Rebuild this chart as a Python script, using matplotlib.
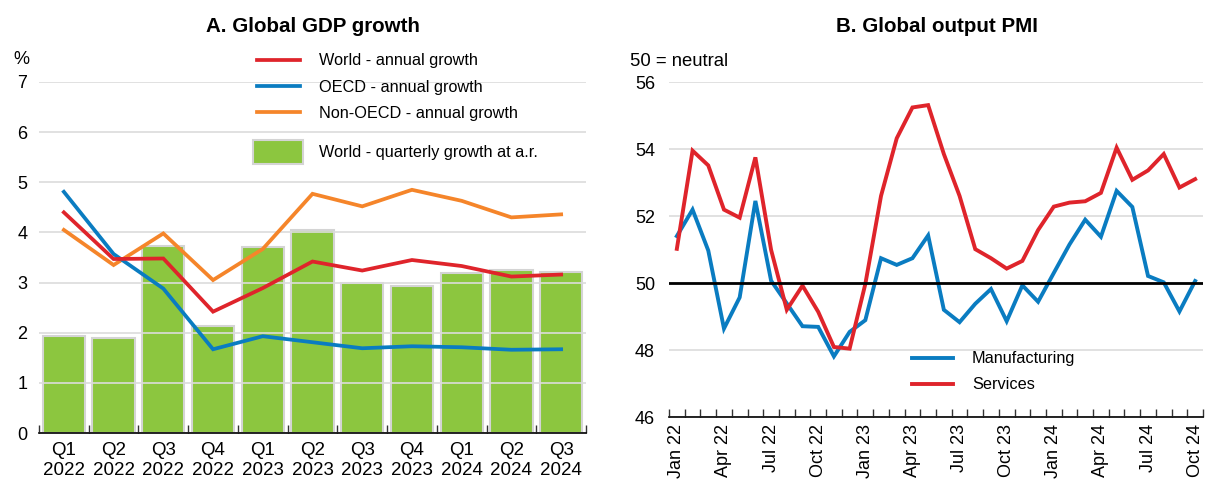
import matplotlib
matplotlib.use("Agg")
import matplotlib.pyplot as plt
import numpy as np

plt.rcParams['font.family'] = ['Liberation Sans', 'DejaVu Sans']

# ---------------- data ----------------
quarters = ['Q1\n2022', 'Q2\n2022', 'Q3\n2022', 'Q4\n2022',
            'Q1\n2023', 'Q2\n2023', 'Q3\n2023', 'Q4\n2023',
            'Q1\n2024', 'Q2\n2024', 'Q3\n2024']
world_quarterly = [1.93, 1.89, 3.72, 2.14, 3.71, 4.05, 2.99, 2.93, 3.20, 3.26, 3.21]
world_annual = [4.40, 3.47, 3.48, 2.42, 2.89, 3.42, 3.24, 3.45, 3.33, 3.12, 3.16]
oecd_annual = [4.81, 3.57, 2.88, 1.67, 1.93, 1.81, 1.69, 1.73, 1.71, 1.66, 1.67]
nonoecd_annual = [4.05, 3.35, 3.98, 3.05, 3.67, 4.77, 4.52, 4.85, 4.63, 4.30, 4.36]

months = ['Jan 22', 'Feb 22', 'Mar 22', 'Apr 22', 'May 22', 'Jun 22',
          'Jul 22', 'Aug 22', 'Sep 22', 'Oct 22', 'Nov 22', 'Dec 22',
          'Jan 23', 'Feb 23', 'Mar 23', 'Apr 23', 'May 23', 'Jun 23',
          'Jul 23', 'Aug 23', 'Sep 23', 'Oct 23', 'Nov 23', 'Dec 23',
          'Jan 24', 'Feb 24', 'Mar 24', 'Apr 24', 'May 24', 'Jun 24',
          'Jul 24', 'Aug 24', 'Sep 24', 'Oct 24']
manufacturing = [51.40, 52.19, 50.97, 48.64, 49.57, 52.45, 50.07, 49.39, 48.71, 48.69, 47.81, 48.54,
                 48.89, 50.74, 50.54, 50.74, 51.42, 49.20, 48.83, 49.38, 49.82, 48.86, 49.93, 49.44,
                 50.30, 51.15, 51.89, 51.38, 52.75, 52.27, 50.21, 50.02, 49.15, 50.06]
services = [51.02, 53.95, 53.51, 52.19, 51.95, 53.75, 50.99, 49.20, 49.92, 49.14, 48.09, 48.04,
            49.97, 52.60, 54.32, 55.24, 55.31, 53.85, 52.60, 51.01, 50.74, 50.43, 50.66, 51.58,
            52.28, 52.40, 52.44, 52.69, 54.04, 53.08, 53.36, 53.85, 52.85, 53.10]

RED = '#DF242B'
BLUE = '#0A7CC1'
ORANGE = '#F5852A'
GREEN = '#8CC63F'
GRID = '#DCDCDC'

W, H = 1205, 479
fig = plt.figure(figsize=(W / 100, H / 100), dpi=100)

# ---------------- panel A ----------------
axL = fig.add_axes([39 / W, 1 - 433 / H, 547 / W, 351 / H])
x = np.arange(len(quarters))
bars = axL.bar(x, world_quarterly, width=0.85, color=GREEN, edgecolor='#D4D4D4',
               linewidth=1.5, zorder=1, label='World - quarterly growth at a.r.')
l_non, = axL.plot(x, nonoecd_annual, color=ORANGE, lw=2.7, zorder=3,
                  label='Non-OECD - annual growth', solid_joinstyle='miter')
l_oecd, = axL.plot(x, oecd_annual, color=BLUE, lw=2.7, zorder=3,
                   label='OECD - annual growth', solid_joinstyle='miter')
l_world, = axL.plot(x, world_annual, color=RED, lw=2.7, zorder=3,
                    label='World - annual growth', solid_joinstyle='miter')

axL.set_xlim(-0.5, len(quarters) - 0.5)
axL.set_ylim(0, 7)
axL.set_yticks(range(0, 8))
axL.yaxis.grid(True, color=GRID, lw=1.2)
axL.set_xticks(x)
axL.set_xticklabels(quarters, fontsize=13.5, linespacing=1.22)
axL.set_xticks(np.arange(-0.5, len(quarters), 1.0), minor=True)
axL.tick_params(axis='x', which='major', length=0, pad=6.5)
axL.tick_params(axis='x', which='minor', length=6, width=1, direction='in', color='#333333')
axL.tick_params(axis='y', length=0, pad=8.5, labelsize=13)
for s in ['left', 'right', 'top']:
    axL.spines[s].set_visible(False)
axL.spines['bottom'].set_linewidth(1.2)
axL.spines['bottom'].set_zorder(4)

leg1 = axL.legend(handles=[l_world, l_oecd, l_non],
                  labels=['World - annual growth', 'OECD - annual growth', 'Non-OECD - annual growth'],
                  loc='upper left', bbox_to_anchor=(257 / W, 1 - 53.5 / H),
                  bbox_transform=fig.transFigure, frameon=False, borderpad=0,
                  borderaxespad=0, handlelength=2.65, handletextpad=1.15,
                  labelspacing=0.68, fontsize=11.7)
axL.add_artist(leg1)
leg2 = axL.legend(handles=[bars], labels=['World - quarterly growth at a.r.'],
                  loc='upper left', bbox_to_anchor=(253 / W, 1 - 140 / H),
                  bbox_transform=fig.transFigure, frameon=False, borderpad=0,
                  borderaxespad=0, handlelength=3.1, handleheight=1.9,
                  handletextpad=0.95, fontsize=11.7)

fig.text(313 / W, 1 - 26 / H, 'A. Global GDP growth', ha='center', va='center',
         fontsize=14.8, fontweight='bold')
fig.text(13 / W, 1 - 60 / H, '%', ha='left', va='center', fontsize=13)

# ---------------- panel B ----------------
axR = fig.add_axes([669 / W, 1 - 417 / H, 534 / W, 335 / H])
xm = np.arange(len(months))
l_man, = axR.plot(xm, manufacturing, color=BLUE, lw=2.8, zorder=2, label='Manufacturing',
                  solid_joinstyle='miter')
l_ser, = axR.plot(xm, services, color=RED, lw=2.8, zorder=2.1, label='Services',
                  solid_joinstyle='miter')
axR.axhline(50, color='black', lw=2, zorder=3)

axR.set_xlim(-0.5, len(months) - 0.5)
axR.set_ylim(46, 56)
axR.set_yticks([46, 48, 50, 52, 54, 56])
axR.yaxis.grid(True, color=GRID, lw=1.2)
axR.set_xticks(xm[::3])
axR.set_xticklabels(months[::3], rotation=90, fontsize=13)
axR.set_xticks(np.arange(-0.5, len(months), 1.0), minor=True)
axR.tick_params(axis='x', which='major', length=0, pad=5)
axR.tick_params(axis='x', which='minor', length=6, width=1, direction='in', color='#333333')
axR.tick_params(axis='y', length=0, pad=10, labelsize=13)
for s in ['left', 'right', 'top']:
    axR.spines[s].set_visible(False)
axR.spines['bottom'].set_linewidth(1.2)

axR.legend(handles=[l_man, l_ser], labels=['Manufacturing', 'Services'],
           loc='upper left', bbox_to_anchor=(911.7 / W, 1 - 351.5 / H),
           bbox_transform=fig.transFigure, frameon=False, borderpad=0,
           borderaxespad=0, handlelength=2.55, handletextpad=1.15,
           labelspacing=0.66, fontsize=11.7)

fig.text(936.5 / W, 1 - 26 / H, 'B. Global output PMI', ha='center', va='center',
         fontsize=14.8, fontweight='bold')
fig.text(630.5 / W, 1 - 61.7 / H, '50 = neutral', ha='left', va='center', fontsize=13.3)

fig.savefig('out.png', dpi=100)
